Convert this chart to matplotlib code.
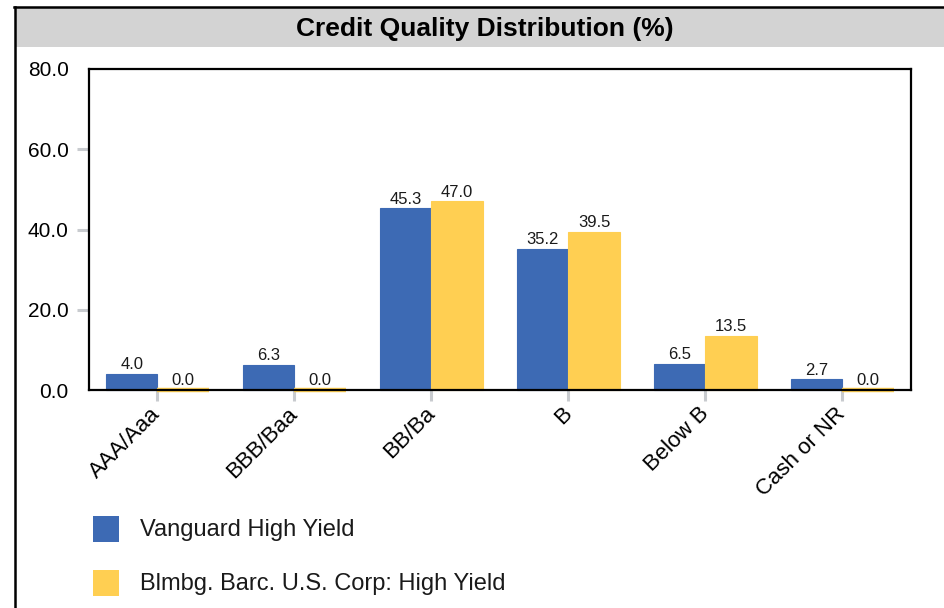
import numpy as np
import matplotlib
matplotlib.use("Agg")
import matplotlib.pyplot as plt
from matplotlib.patches import Rectangle
from matplotlib.lines import Line2D

plt.rcParams['font.family'] = ['Liberation Sans', 'DejaVu Sans']

categories = ["AAA/Aaa", "BBB/Baa", "BB/Ba", "B", "Below B", "Cash or NR"]
fund_vals = [4.0, 6.3, 45.3, 35.2, 6.5, 2.7]
bench_vals = [0.0, 0.0, 47.0, 39.5, 13.5, 0.0]
series_names = ["Vanguard High Yield", "Blmbg. Barc. U.S. Corp: High Yield"]
colors = ["#3D6AB4", "#FFCF52"]
y_ticks = [0, 20, 40, 60, 80]

W, H = 945, 608
fig = plt.figure(figsize=(W / 100, H / 100), dpi=100)

# helpers for placing things in pixel units (origin top-left)
def fx(px):
    return px / W

def fy(py):
    return 1 - py / H

# header band + outer frame
fig.add_artist(Rectangle((fx(16), fy(47)), 1 - fx(16), fy(8) - fy(47),
                         transform=fig.transFigure, facecolor="#D3D3D3",
                         edgecolor="none", zorder=0))
fig.add_artist(Line2D([fx(14), 1], [fy(7), fy(7)], transform=fig.transFigure,
                      color="black", lw=1.8))
fig.add_artist(Line2D([fx(15), fx(15)], [0, fy(7)], transform=fig.transFigure,
                      color="black", lw=1.8))
fig.text(fx(485), fy(29), "Credit Quality Distribution (%)", ha="center",
         va="center", fontsize=19, fontweight="bold", color="black")

ax = fig.add_axes([fx(89), fy(390), fx(911) - fx(89), fy(69) - fy(390)])

x = np.arange(len(categories))
width = 0.375
for i, (vals, name, c) in enumerate(zip([fund_vals, bench_vals], series_names, colors)):
    offs = (i - 0.5) * width
    # zero-valued bars get a thick edge so they still show as a thin strip
    lws = [3.2 if v == 0 else 0.8 for v in vals]
    bars = ax.bar(x + offs, vals, width, color=c, edgecolor=c, linewidth=lws,
                  label=name, clip_on=False, zorder=2)
    for b, v in zip(bars, vals):
        ax.text(b.get_x() + b.get_width() / 2, v + 0.4, f"{v:.1f}",
                ha="center", va="bottom", fontsize=12, color="#1a1a1a")

ax.set_xlim(-0.5, len(categories) - 0.5)
ax.set_ylim(0, 80)
ax.set_yticks(y_ticks)
ax.set_yticklabels([f"{t:.1f}" for t in y_ticks], fontsize=15)
ax.set_xticks(x)
ax.set_xticklabels(categories, fontsize=16, rotation=45, ha="right",
                   va="center", rotation_mode="anchor")

for sp in ax.spines.values():
    sp.set_linewidth(1.6)
    sp.set_color("black")
    sp.set_zorder(3)

ax.tick_params(axis="y", length=8.5, width=2.2, color="#C8CBCF", pad=6)
ax.tick_params(axis="x", length=8, width=2.2, color="#C8CBCF", pad=7)
yt = ax.yaxis.get_major_ticks()
yt[0].tick1line.set_visible(False)
yt[-1].tick1line.set_visible(False)

# legend drawn as swatches + labels below the plot
for i, (name, c) in enumerate(zip(series_names, colors)):
    top = 516 + i * 54
    fig.add_artist(Rectangle((fx(93), fy(top + 26)), fx(26), 26 / H,
                             transform=fig.transFigure, facecolor=c,
                             edgecolor="none"))
    fig.text(fx(140), fy(top + 14), name, ha="left", va="center",
             fontsize=17, color="#1a1a1a")

fig.savefig("out.png", dpi=100)
